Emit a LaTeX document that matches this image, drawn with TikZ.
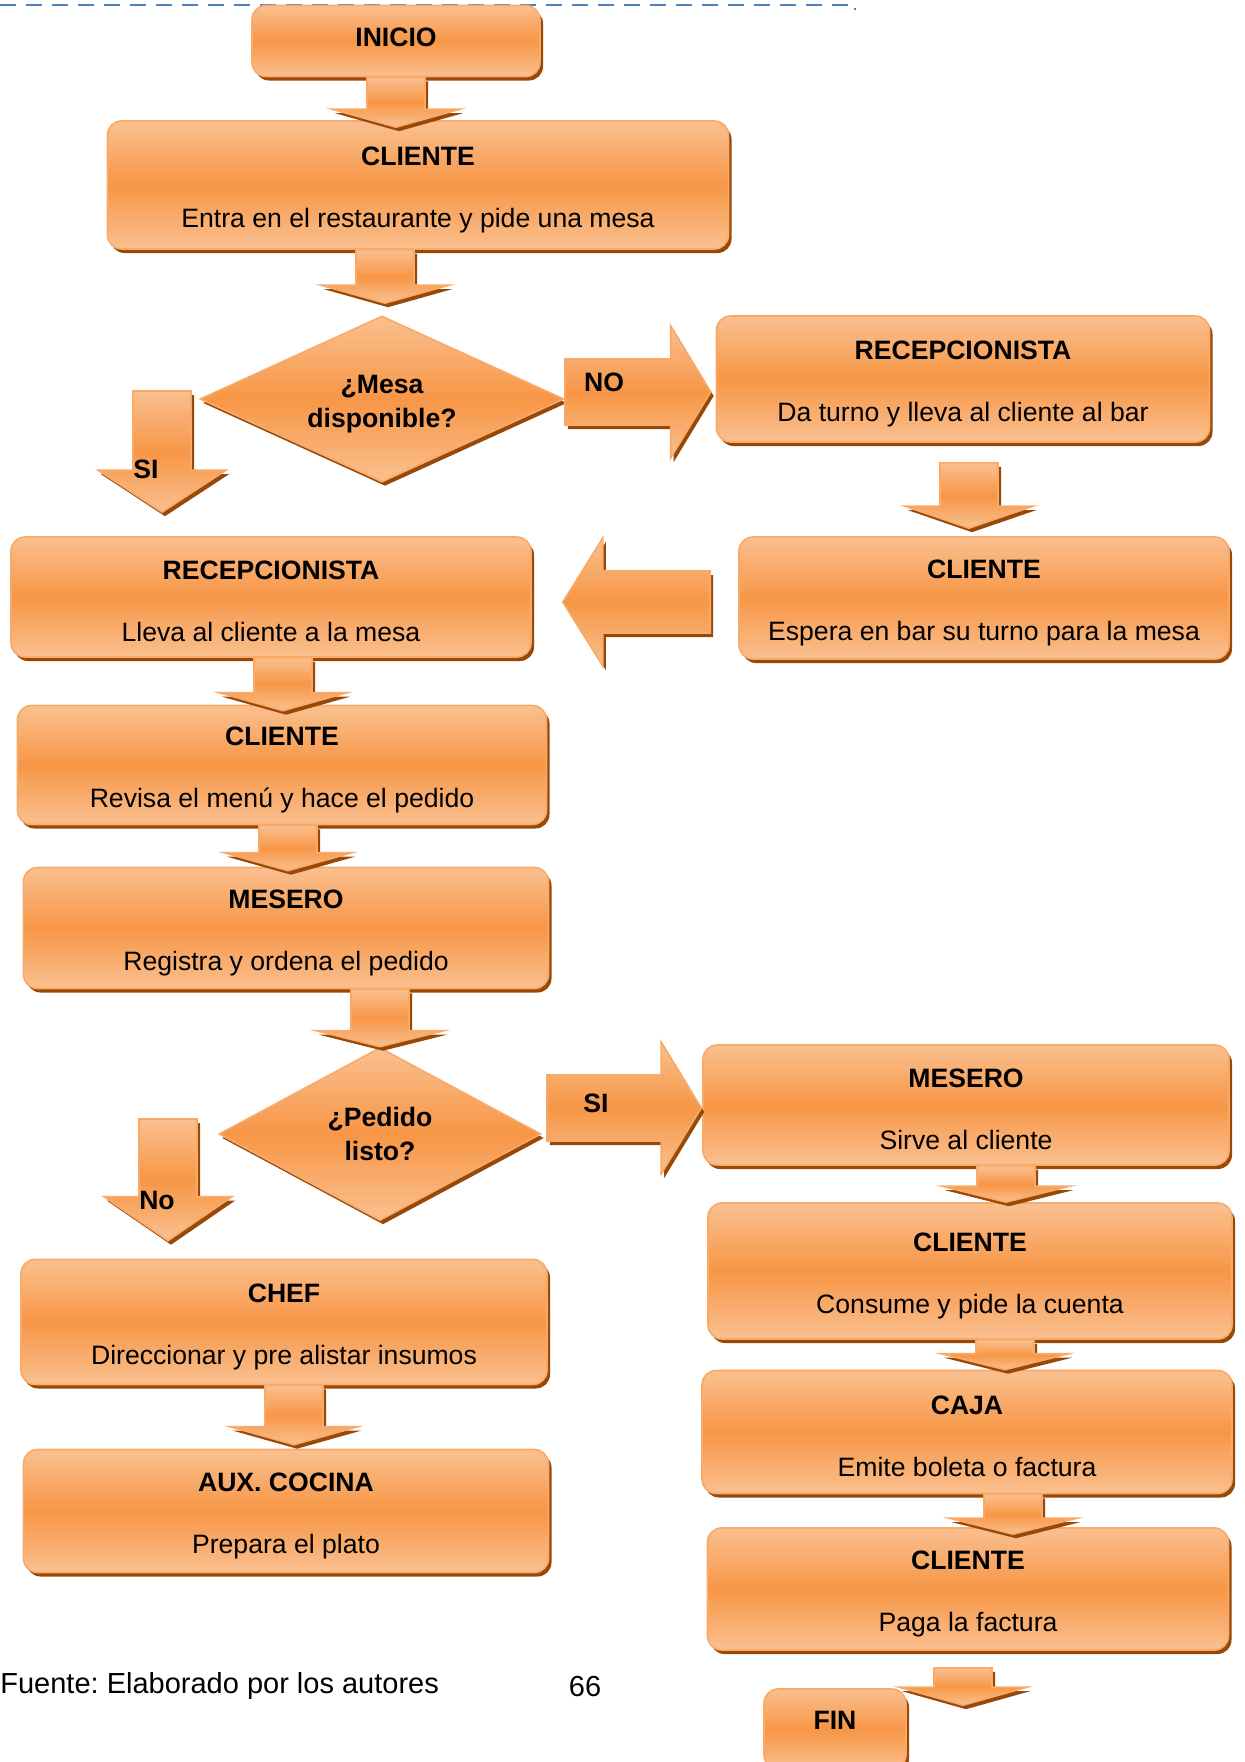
\documentclass[tikz,border=0pt]{standalone}
\usepackage{fontspec}
\setmainfont{Liberation Sans}
\frenchspacing
\usepackage{tikz}
\usetikzlibrary{shapes,arrows,positioning,shadows,calc}
\definecolor{naranja}{RGB}{247,150,70}
\definecolor{naranjaclaro}{RGB}{250,192,144}
\definecolor{borde}{RGB}{249,170,105}
\definecolor{sombra}{RGB}{152,72,7}
\definecolor{azul}{RGB}{79,129,189}
\tikzstyle{sombreado} = [top color=naranjaclaro, bottom color=naranjaclaro, middle color=naranja, drop shadow={opacity=1, fill=sombra, shadow xshift=1.5pt, shadow yshift=-2pt}]
\tikzstyle{caja} = [rectangle, rounded corners=7pt, draw=borde, line width=0.8pt, sombreado, text=black, align=center, inner sep=0pt, font=\fontsize{13.3}{16}\selectfont]
\tikzstyle{decision} = [diamond, aspect=2.2, draw=borde, line width=0.8pt, sombreado, text=black, align=center, inner sep=0pt, font=\bfseries\fontsize{13.3}{17}\selectfont]
\tikzstyle{flecha} = [draw=borde, line width=0.8pt, sombreado]
\tikzstyle{etiqueta} = [text=black, font=\bfseries\fontsize{13.3}{16}\selectfont]
\newcommand{\titulo}[1]{\rule{0pt}{14pt}\textbf{#1}}

% flechas de bloque: #2 arranque, #3 punta
\newcommand{\bajar}[3][9pt]{%
  \path[flecha] let \p1=#2, \p2=#3 in
    (\x2-14.5pt,\y1) -- (\x2-14.5pt,\y2+#1) -- (\x2-32pt,\y2+#1) -- (\x2,\y2)
    -- (\x2+32pt,\y2+#1) -- (\x2+14.5pt,\y2+#1) -- (\x2+14.5pt,\y1) -- cycle;}
\newcommand{\derecha}[2]{%
  \path[flecha] let \p1=#1, \p2=#2 in
    (\x1,\y2+16.5pt) -- (\x2-20pt,\y2+16.5pt) -- (\x2-20pt,\y2+33pt) -- (\x2,\y2)
    -- (\x2-20pt,\y2-33pt) -- (\x2-20pt,\y2-16.5pt) -- (\x1,\y2-16.5pt) -- cycle;}
\newcommand{\izquierda}[2]{%
  \path[flecha] let \p1=#1, \p2=#2 in
    (\x1,\y2+15.5pt) -- (\x2+20pt,\y2+15.5pt) -- (\x2+20pt,\y2+32pt) -- (\x2,\y2)
    -- (\x2+20pt,\y2-32pt) -- (\x2+20pt,\y2-15.5pt) -- (\x1,\y2-15.5pt) -- cycle;}

\begin{document}
\begin{tikzpicture}[x=0.5pt, y=-0.5pt]
\useasboundingbox (0,0) rectangle (1244,1762);

% marco de la pagina
\draw[azul, dashed, dash pattern=on 8pt off 5pt, line width=1pt] (0,5) -- (855,5) -- (855,10);

% cajas =============================

% columna izquierda
\node[caja, minimum width=144pt, minimum height=35.5pt] (inicio) at (396,41) {\textbf{INICIO}\rule[-3.5pt]{0pt}{3.5pt}};
\node[caja, minimum width=310.5pt, minimum height=64pt] (cli1) at (418,185) {\titulo{CLIENTE}\\[15pt]Entra en el restaurante y pide una mesa};
\node[decision, minimum width=182pt, minimum height=83pt] (mesa) at (382,399) {\rule{0pt}{14pt}¿Mesa\\disponible?};
\node[caja, minimum width=260pt, minimum height=60pt] (recep2) at (271,597) {\titulo{RECEPCIONISTA}\\[15pt]Lleva al cliente a la mesa};
\node[caja, minimum width=264.5pt, minimum height=59.5pt] (revisa) at (282,765) {\titulo{CLIENTE}\\[15pt]Revisa el menú y hace el pedido};
\node[caja, minimum width=262.5pt, minimum height=60.5pt] (registra) at (286,928) {\titulo{MESERO}\\[15pt]Registra y ordena el pedido};
\node[decision, minimum width=161pt, minimum height=86.5pt] (pedido) at (380,1134) {¿Pedido\\listo?};
\node[caja, minimum width=263pt, minimum height=62.5pt] (chef) at (284,1322) {\titulo{CHEF}\\[15pt]Direccionar y pre alistar insumos};
\node[caja, minimum width=262.5pt, minimum height=61.5pt] (aux) at (286,1511) {\titulo{AUX. COCINA}\\[15pt]Prepara el plato};

% columna derecha
\node[caja, minimum width=246.5pt, minimum height=63pt] (recepR) at (963,379) {\titulo{RECEPCIONISTA}\\[15pt]Da turno y lleva al cliente al bar};
\node[caja, minimum width=245pt, minimum height=61pt] (espera) at (984,598) {\titulo{CLIENTE}\\[15pt]Espera en bar su turno para la mesa};
\node[caja, minimum width=263pt, minimum height=60pt] (sirve) at (966,1105) {\titulo{MESERO}\\[15pt]Sirve al cliente};
\node[caja, minimum width=262pt, minimum height=68pt] (consume) at (970,1271) {\titulo{CLIENTE}\\[15pt]Consume y pide la cuenta};
\node[caja, minimum width=265pt, minimum height=61.5pt] (caja) at (967,1432) {\titulo{CAJA}\\[15pt]Emite boleta o factura};
\node[caja, minimum width=260.5pt, minimum height=61pt] (paga) at (968,1589) {\titulo{CLIENTE}\\[15pt]Paga la factura};
\node[caja, minimum width=71pt, minimum height=40pt] (fin) at (835,1729) {\textbf{FIN}\rule[-9pt]{0pt}{9pt}};

% flechas ============================

\bajar{(inicio.south)}{($(cli1.north -| inicio.south)+(0,7)$)}
\bajar{(cli1.south)}{($(mesa.north)+(3,-12)$)}
\derecha{(mesa.east)}{($(recepR.west |- mesa.east)+(-5,-7)$)}
\bajar[11pt]{($(recepR.south)+(0,20)$)}{($(espera.north -| recepR.south)+(6,-8)$)}
\izquierda{($(espera.west)+(-28,4)$)}{($(recep2.east)+(31,5)$)}
\bajar[21pt]{($(mesa.west)+(0,-8)$)}{($(recep2.north)+(-109,-24)$)}
\bajar{(recep2.south)}{($(revisa.north)+(1,6)$)}
\bajar{(revisa.south)}{($(registra.north)+(2,4)$)}
\bajar[8pt]{(registra.south)}{(pedido.north)}
\derecha{($(pedido.east)+(5,0)$)}{($(sirve.west)+(-1,3)$)}
\bajar[22pt]{($(pedido.west)+(0,-15)$)}{($(chef.north)+(-116,-18)$)}
\bajar{(chef.south)}{($(aux.north)+(8,-4)$)}
\bajar[8pt]{(sirve.south)}{($(consume.north)+(36,0)$)}
\bajar[8pt]{(consume.south)}{($(caja.north)+(38,0)$)}
\bajar[8pt]{(caja.south)}{($(paga.north)+(45,7)$)}
\bajar{($(paga.south)+(0,17)$)}{($(fin.north)+(128,17)$)}

% etiquetas
\node[etiqueta] (no1) at (604,382) {NO};
\node[etiqueta] (si1) at (146,469) {SI};
\node[etiqueta] (si2) at (596,1103) {SI};
\node[etiqueta] (no2) at (157,1200) {No};

% pie
\node[anchor=west, inner sep=0pt, font=\fontsize{14.5}{17}\selectfont] (fuente) at (0,1686) {Fuente: Elaborado por los autores};
\node[inner sep=0pt, font=\fontsize{14.5}{17}\selectfont] (pagina) at (585,1686) {66};

\end{tikzpicture}
\end{document}
